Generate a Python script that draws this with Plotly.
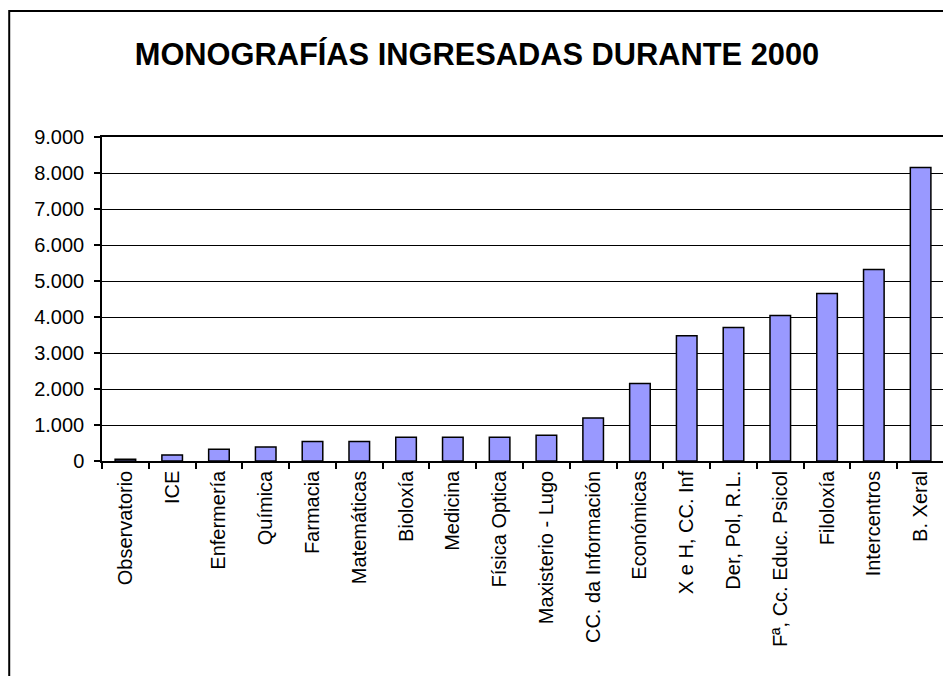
import plotly.graph_objects as go

categories = ["Observatorio", "ICE", "Enfermería", "Química", "Farmacia", "Matemáticas",
              "Bioloxía", "Medicina", "Física Optica", "Maxisterio - Lugo",
              "CC. da Información", "Económicas", "X e H, CC. Inf", "Der, Pol, R.L.",
              "Fª, Cc. Educ. Psicol", "Filoloxía", "Intercentros", "B. Xeral"]
values = [50, 170, 325, 390, 545, 545, 660, 660, 660, 715,
          1195, 2150, 3480, 3705, 4040, 4650, 5320, 8150]
y_ticks = [0, 1000, 2000, 3000, 4000, 5000, 6000, 7000, 8000, 9000]
title_text = "MONOGRAFÍAS INGRESADAS DURANTE 2000"

# page body has an 8px default margin; work in figure coordinates
OFF = 8
W, H = 951 - OFF, 684 - 2 * OFF
L, T = 102 - OFF, 137 - OFF
R = W - (946 - OFF)
B = H - (461 - OFF)
pw, ph = W - L - R, H - T - B

fig = go.Figure(go.Bar(
    x=categories, y=values,
    marker=dict(color="#9999FF", line=dict(color="black", width=1.5)),
))

fig.update_layout(
    width=W, height=H,
    margin=dict(l=L, r=R, t=T, b=B, pad=0),
    paper_bgcolor="white", plot_bgcolor="white",
    separators=",.",
    bargap=0.56,
    showlegend=False,
    font=dict(family="Liberation Sans, Arial, sans-serif", color="black", size=20),
    title=dict(text="<b>" + title_text + "</b>",
               x=(477 - OFF) / W, xref="container", xanchor="center",
               y=1 - (54 - OFF) / H, yref="container", yanchor="middle",
               font=dict(size=30.8, family="Liberation Sans, Arial, sans-serif", color="black")),
)

fig.update_xaxes(
    type="category", tickangle=-90, tickson="boundaries",
    ticks="outside", ticklen=6, tickwidth=1.5, tickcolor="black",
    showline=True, linecolor="black", linewidth=1.5, mirror=True,
    showgrid=False, tickfont=dict(size=20),
)
fig.update_yaxes(
    range=[0, 9000], tickvals=y_ticks, tickformat=",d",
    ticks="outside", ticklen=6, tickwidth=1.5, tickcolor="black",
    showline=True, linecolor="black", linewidth=1.5, mirror=True,
    showgrid=True, gridcolor="black", gridwidth=1,
    zeroline=False, tickfont=dict(size=20), ticklabelstandoff=6,
)

# outer chart frame (extends beyond the visible window on right and bottom)
fig.add_shape(type="rect", xref="paper", yref="paper",
              x0=(1 - L) / pw, x1=(W + 60 - L) / pw,
              y0=-(B + 60) / ph, y1=1 + (T - 3) / ph,
              line=dict(color="black", width=2), fillcolor="rgba(0,0,0,0)", layer="below")

fig.write_html("out.html")
